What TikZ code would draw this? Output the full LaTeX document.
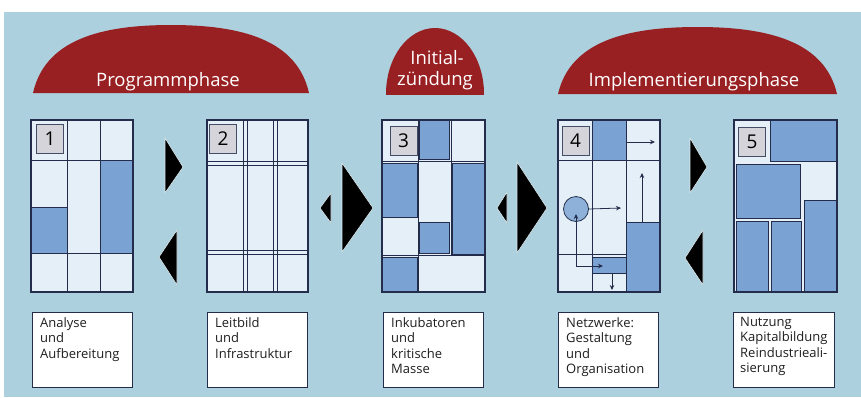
\documentclass[tikz,border=0pt]{standalone}
\usepackage{fontspec}
\setmainfont{Open Sans}
\usetikzlibrary{arrows.meta}
\definecolor{bg}{RGB}{172,208,222}
\definecolor{lite}{RGB}{228,239,247}
\definecolor{dark}{RGB}{122,163,212}
\definecolor{ln}{RGB}{35,45,75}
\definecolor{domec}{RGB}{152,32,34}
\definecolor{numg}{RGB}{212,212,218}
\tikzset{
 panel/.style={fill=lite},
 pborder/.style={draw=ln, line width=1.2pt},
 gl/.style={draw=ln, line width=0.8pt},
 dk/.style={fill=dark, draw=ln, line width=0.8pt},
 numbox/.style={fill=numg, draw=ln!85, line width=0.9pt, minimum width=27pt, minimum height=29pt, inner sep=0pt, font=\fontsize{19}{19}\selectfont},
 tri/.style={fill=black, draw=white!60!bg, line width=0.6pt, line join=round},
 txtbox/.style={fill=white, draw=ln, line width=1pt, anchor=north west, minimum width=100pt, minimum height=75pt, inner sep=0pt},
 lbl/.style={anchor=north west, align=left, inner sep=0pt, font=\fontsize{13}{15.5}\selectfont, text=black!88},
 domelbl/.style={text=white, inner sep=0pt, anchor=base, font=\fontsize{18.5}{21}\selectfont},
 arr/.style={draw=ln, line width=0.8pt, -{Stealth[length=5pt,width=4.5pt]}},
 darr/.style={draw=ln, line width=0.8pt, {Stealth[length=5pt,width=4.5pt]}-{Stealth[length=5pt,width=4.5pt]}},
}
% dome: left, right, base, top
\newcommand{\mydome}[4]{%
  \pgfmathsetmacro{\ww}{#2-#1}
  \pgfmathsetmacro{\hh}{#3-#4}
  \pgfmathsetmacro{\cx}{(#1+#2)/2}
  \fill[domec] (#1,#3) .. controls (#1+0.0435*\ww,#3-0.78*\hh) and (#1+0.243*\ww,#4) .. (\cx,#4)
     .. controls (#2-0.243*\ww,#4) and (#2-0.0435*\ww,#3-0.78*\hh) .. (#2,#3) -- cycle;
}
\begin{document}
\begin{tikzpicture}[x=1pt,y=-1pt]
\useasboundingbox (0,0) rectangle (861,397);
\fill[white] (0,0) rectangle (861,397);
\fill[bg] (4,12) rectangle (861,397);

% domes
\mydome{33}{309}{93}{25}
\begin{scope}
  \clip (380,94) rectangle (490,0);
  \fill[domec] (435,94) ellipse [x radius=49pt, y radius=66pt];
\end{scope}
\mydome{558}{837}{94}{27}
\node[domelbl] (ph1) at (168,86) {Programmphase};
\node[domelbl] (ph2a) at (437,64) {Initial-};
\node[domelbl] (ph2b) at (435,85) {zündung};
\node[domelbl] (ph3) at (694,86) {Implementierungsphase};

% panel 1
\fill[panel] (31,120) rectangle (133,292);
\draw[gl] (67,120) -- (67,292) (100,120) -- (100,292) (31,160) -- (133,160) (31,253) -- (133,253);
\draw[dk] (31,207) rectangle (67,253);
\draw[dk] (100,160) rectangle (133,253);
\draw[pborder] (31,120) rectangle (133,292);
\node[numbox] (n1) at (50,139) {1};

% panel 2
\fill[panel] (207,120) rectangle (308,292);
\draw[gl] (243,120) -- (243,292) (247,120) -- (247,292) (273,120) -- (273,292) (277,120) -- (277,292)
  (207,161) -- (308,161) (207,165) -- (308,165) (207,250) -- (308,250) (207,254) -- (308,254);
\draw[pborder] (207,120) rectangle (308,292);
\node[numbox] (n2) at (223,139) {2};

% panel 3
\fill[panel] (382,120) rectangle (485,292);
\draw[gl] (382,161) -- (485,161) (382,255) -- (485,255) (418,120) -- (418,292) (451,120) -- (451,255);
\draw[dk] (419,120) rectangle (449,159);
\draw[dk] (382,163) rectangle (417,217);
\draw[dk] (452,163) rectangle (485,254);
\draw[dk] (419,222) rectangle (449,253);
\draw[dk] (382,257) rectangle (417,292);
\draw[pborder] (382,120) rectangle (485,292);
\node[numbox] (n3) at (403.5,141) {3};

% panel 4
\fill[panel] (558,120) rectangle (660,292);
\draw[gl] (592,120) -- (592,292) (626,120) -- (626,292) (558,160) -- (660,160) (558,254) -- (626,254);
\draw[dk] (592,120) rectangle (626,160);
\draw[dk] (626,222) rectangle (660,292);
\node[dk, rectangle, minimum width=34pt, minimum height=16pt, inner sep=0pt] (sb) at (609,265.5) {};
\node[dk, circle, fill=dark!85!white, minimum size=25pt, inner sep=0pt] (c4) at (576,209) {};
\draw[pborder] (558,120) rectangle (660,292);
\node[numbox] (n4) at (575.5,141) {4};
\coordinate (a1s) at (627,142); \coordinate (a1e) at (655,142);
\coordinate (a2s) at (642,222); \coordinate (a2e) at (642,173);
\coordinate (a3e) at (621,208);
\coordinate (a4s) at (576,214); \coordinate (a4e) at (603,266);
\coordinate (a5s) at (612,273.5); \coordinate (a5e) at (612,290);
\draw[arr] (a1s) -- (a1e);
\draw[arr] (a2s) -- (a2e);
\draw[arr] (c4.east) -- (a3e);
\draw[darr] (a4s) |- (a4e);
\draw[arr] (a5s) -- (a5e);

% panel 5
\fill[panel] (734,120) rectangle (837,292);
\draw[dk] (770,120) rectangle (837,161);
\draw[dk] (736,164) rectangle (800,218);
\draw[dk] (804,200) rectangle (837,292);
\draw[dk] (736,221) rectangle (768,292);
\draw[dk] (771,221) rectangle (801,292);
\draw[pborder] (734,120) rectangle (837,292);
\node[numbox] (n5) at (752,142) {5};

% triangles
\draw[tri] (165,138) -- (183,167) -- (165,193) -- cycle;
\draw[tri] (177,230) -- (159,257) -- (177,285) -- cycle;
\draw[tri] (331,193) -- (320,208) -- (331,223) -- cycle;
\draw[tri] (342,163) -- (373,208) -- (342,252) -- cycle;
\draw[tri] (507,192) -- (497,208) -- (507,223) -- cycle;
\draw[tri] (517,162) -- (547,208) -- (517,253) -- cycle;
\draw[tri] (690,138) -- (707,167) -- (690,193) -- cycle;
\draw[tri] (703,230) -- (685,258) -- (703,285) -- cycle;

% text boxes
\node[txtbox] (b1) at (32,312) {};
\node[txtbox] (b2) at (207,312) {};
\node[txtbox] (b3) at (383,312) {};
\node[txtbox] (b4) at (558,312) {};
\node[txtbox, minimum width=101pt] (b5) at (733,312) {};
\node[lbl] (t1) at (40,317) {Analyse\\und\\Aufbereitung};
\node[lbl] (t2) at (215,317) {Leitbild\\und\\Infrastruktur};
\node[lbl] (t3) at (391,317) {Inkubatoren\\und\\kritische\\Masse};
\node[lbl] (t4) at (566,317) {Netzwerke:\\Gestaltung\\und\\Organisation};
\node[lbl] (t5) at (740,317) {Nutzung\\Kapitalbildung\\Reindustrieali-\\sierung};
\end{tikzpicture}
\end{document}
